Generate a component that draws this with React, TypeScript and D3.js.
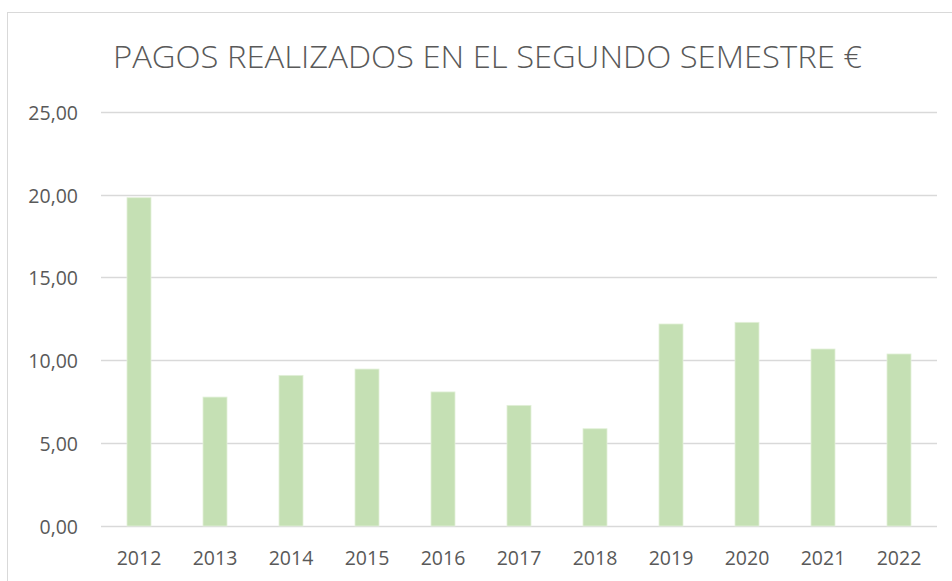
import React, { useEffect, useRef } from "react";
import * as d3 from "d3";

const years = ["2012", "2013", "2014", "2015", "2016", "2017", "2018", "2019", "2020", "2021", "2022"];
const values = [19.81, 7.78, 9.09, 9.47, 8.09, 7.28, 5.87, 12.19, 12.29, 10.68, 10.38];
const yTicks = [0, 5, 10, 15, 20, 25];
const title = "PAGOS REALIZADOS EN EL SEGUNDO SEMESTRE €";

const W = 952;
const H = 581;

export default function App() {
  const ref = useRef<SVGSVGElement>(null);
  useEffect(() => {
    const svg = d3.select(ref.current);
    svg.selectAll("*").remove();
    const font = "'Open Sans', Lato, sans-serif";
    const textColor = "#595959";

    svg.append("rect")
      .attr("x", 7.5).attr("y", 12.5)
      .attr("width", 1000).attr("height", 1000)
      .attr("fill", "#fff").attr("stroke", "#d9d9d9").attr("stroke-width", 1);

    const x = d3.scaleBand<string>().domain(years).range([101, 937]).paddingInner(0.684).paddingOuter(0.342);
    const y = d3.scaleLinear().domain([0, 25]).range([526, 111.7]);

    const g = svg.append("g");
    g.selectAll("line.grid").data(yTicks).join("line")
      .attr("class", "grid")
      .attr("x1", 101).attr("x2", 937)
      .attr("y1", (d) => Math.round(y(d)) + 0.5).attr("y2", (d) => Math.round(y(d)) + 0.5)
      .attr("stroke", "#d9d9d9").attr("stroke-width", 1.5);

    g.selectAll("text.ytick").data(yTicks).join("text")
      .attr("class", "ytick")
      .attr("x", 78).attr("y", (d) => y(d) + 8)
      .attr("text-anchor", "end")
      .attr("font-family", font).attr("font-size", 19.5)
      .attr("fill", textColor)
      .text((d) => d3.format(".2f")(d).replace(".", ","));

    g.selectAll("rect.bar").data(values).join("rect")
      .attr("class", "bar")
      .attr("x", (_, i) => x(years[i])!)
      .attr("width", x.bandwidth())
      .attr("y", (d) => y(d))
      .attr("height", (d) => y(0) - y(d))
      .attr("fill", "#c5e0b4")
      .attr("stroke", "#e2f0d9").attr("stroke-width", 0.8);

    g.selectAll("text.xtick").data(years).join("text")
      .attr("class", "xtick")
      .attr("x", (d) => x(d)! + x.bandwidth() / 2)
      .attr("y", 565)
      .attr("text-anchor", "middle")
      .attr("font-family", font).attr("font-size", 19.5)
      .attr("fill", textColor)
      .text((d) => d);

    svg.append("text")
      .attr("x", 487.5).attr("y", 68)
      .attr("text-anchor", "middle")
      .attr("font-family", font).attr("font-size", 31).attr("font-weight", 300)
      .attr("fill", textColor)
      .attr("textLength", 749).attr("lengthAdjust", "spacingAndGlyphs")
      .text(title);
  }, []);
  return (
    <svg ref={ref} width={W} height={H} style={{ position: "absolute", left: 0, top: 0, display: "block" }} />
  );
}
